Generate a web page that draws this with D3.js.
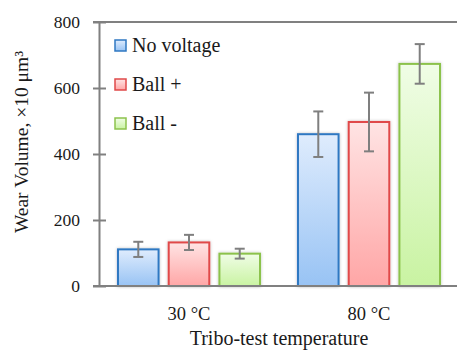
<!DOCTYPE html>
<html>
<head>
<meta charset="utf-8">
<script src="https://cdn.jsdelivr.net/npm/d3@7"></script>
<style>
  body { margin: 0; background: #fff; }
  text { font-family: "Liberation Serif", "Times New Roman", serif; fill: #1a1a1a; }
</style>
</head>
<body>
<div id="chart"></div>
<script>
// data
const categories = ["30 °C", "80 °C"];
const series = ["No voltage", "Ball +", "Ball -"];
const values = {
  "No voltage": [111, 460],
  "Ball +": [132, 497],
  "Ball -": [98, 673]
};
const errors = {
  "No voltage": [23, 69],
  "Ball +": [23, 89],
  "Ball -": [15, 60]
};
const yTicks = [0, 200, 400, 600, 800];

const width = 457, height = 350;
const plotLeft = 99, plotRight = 459, plotTop = 22, plotBottom = 286;
const serif = "'Liberation Serif', 'Times New Roman', serif";

const colors = {
  "No voltage": {stroke: "#2f78c2", top: "#dfecfd", bot: "#98c3f4"},
  "Ball +": {stroke: "#e0494a", top: "#ffe4e4", bot: "#ffa6a6"},
  "Ball -": {stroke: "#8cc24c", top: "#f0fde6", bot: "#c9f3a2"}
};

const svg = d3.select("#chart").append("svg")
  .attr("width", width)
  .attr("height", height);

const defs = svg.append("defs");
series.forEach((s, i) => {
  const g = defs.append("linearGradient")
    .attr("id", "grad" + i)
    .attr("x1", 0).attr("y1", 0).attr("x2", 0).attr("y2", 1);
  g.append("stop").attr("offset", "0%").attr("stop-color", colors[s].top);
  g.append("stop").attr("offset", "100%").attr("stop-color", colors[s].bot);
});
const shadow = defs.append("filter").attr("id", "shadow")
  .attr("x", "-20%").attr("y", "-20%").attr("width", "140%").attr("height", "140%");
shadow.append("feDropShadow")
  .attr("dx", 0).attr("dy", 0)
  .attr("stdDeviation", 1.5)
  .attr("flood-color", "#000")
  .attr("flood-opacity", 0.25);

const y = d3.scaleLinear().domain([0, 800]).range([plotBottom, plotTop]);
const x0 = d3.scaleBand().domain(categories).range([plotLeft, plotRight])
  .paddingInner(0.211).paddingOuter(0.1055);
const x1 = d3.scaleBand().domain(series).range([0, x0.bandwidth()])
  .paddingInner(0.2);

// top line at 800
svg.append("line")
  .attr("x1", plotLeft - 6).attr("x2", width)
  .attr("y1", y(800)).attr("y2", y(800))
  .attr("stroke", "#808080").attr("stroke-width", 2);

// y axis
const yAxis = svg.append("g")
  .attr("transform", "translate(" + plotLeft + ",0)")
  .call(d3.axisLeft(y).tickValues(yTicks).tickSize(0).tickPadding(19));
yAxis.attr("font-family", null);
yAxis.select(".domain").attr("stroke", "#808080").attr("stroke-width", 2);
yAxis.selectAll(".tick text")
  .style("font-family", serif)
  .style("font-size", "17.5px")
  .attr("fill", "#1a1a1a");
yAxis.selectAll(".tick").append("line")
  .attr("x1", -6).attr("x2", 7)
  .attr("stroke", "#808080").attr("stroke-width", 2);

// bars
const groups = svg.selectAll(".group")
  .data(categories)
  .enter().append("g")
  .attr("class", "group")
  .attr("transform", d => "translate(" + x0(d) + ",0)");

groups.each(function(cat, ci) {
  const g = d3.select(this);
  series.forEach((s, si) => {
    const v = values[s][ci];
    g.append("rect")
      .attr("x", x1(s))
      .attr("y", y(v))
      .attr("width", x1.bandwidth())
      .attr("height", y(0) - y(v))
      .attr("fill", "url(#grad" + si + ")")
      .attr("stroke", colors[s].stroke)
      .attr("stroke-width", 2)
      .attr("filter", "url(#shadow)");
  });
});

// x axis line
svg.append("line")
  .attr("x1", plotLeft - 6).attr("x2", width)
  .attr("y1", y(0)).attr("y2", y(0))
  .attr("stroke", "#808080").attr("stroke-width", 2);

// error bars
groups.each(function(cat, ci) {
  const g = d3.select(this);
  series.forEach(s => {
    const v = values[s][ci], e = errors[s][ci];
    const cx = x1(s) + x1.bandwidth() / 2;
    const eb = g.append("g").attr("stroke", "#7f7f7f").attr("stroke-width", 2);
    eb.append("line").attr("x1", cx).attr("x2", cx).attr("y1", y(v + e)).attr("y2", y(v - e));
    eb.append("line").attr("x1", cx - 5).attr("x2", cx + 5).attr("y1", y(v + e)).attr("y2", y(v + e));
    eb.append("line").attr("x1", cx - 5).attr("x2", cx + 5).attr("y1", y(v - e)).attr("y2", y(v - e));
  });
});

// category labels
svg.selectAll(".cat")
  .data(categories)
  .enter().append("text")
  .attr("class", "cat")
  .attr("x", d => x0(d) + x0.bandwidth() / 2)
  .attr("y", 320)
  .attr("text-anchor", "middle")
  .style("font-size", "18.5px")
  .text(d => d);

// axis titles
svg.append("text")
  .attr("x", 279)
  .attr("y", 345)
  .attr("text-anchor", "middle")
  .style("font-size", "20px")
  .text("Tribo-test temperature");

svg.append("text")
  .attr("transform", "translate(28,142) rotate(-90)")
  .attr("text-anchor", "middle")
  .style("font-size", "19.5px")
  .text("Wear Volume, ×10 μm³");

// legend
const legend = svg.selectAll(".legend")
  .data(series)
  .enter().append("g")
  .attr("class", "legend")
  .attr("transform", (d, i) => "translate(115," + (40 + i * 39) + ")");
legend.append("rect")
  .attr("width", 11).attr("height", 11)
  .attr("fill", (d, i) => "url(#grad" + i + ")")
  .attr("stroke", d => colors[d].stroke)
  .attr("stroke-width", 1.5);
legend.append("text")
  .attr("x", 17)
  .attr("y", 12)
  .style("font-size", "20px")
  .text(d => d);
</script>
</body>
</html>
